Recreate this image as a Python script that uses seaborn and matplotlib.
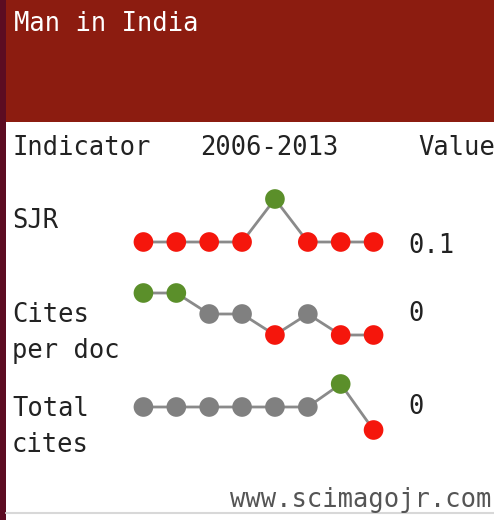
import numpy as np
import pandas as pd
import matplotlib.pyplot as plt
from matplotlib.patches import Rectangle
import seaborn as sns

title = 'Man in India'
period = '2006-2013'
years = [2006, 2007, 2008, 2009, 2010, 2011, 2012, 2013]
indicators = ['SJR', 'Cites\nper doc', 'Total\ncites']
values = ['0.1', '0', '0']
# relative levels per year (only the shape is shown in the sparkline)
sjr = [0, 0, 0, 0, 1, 0, 0, 0]
cites_per_doc = [2, 2, 1, 1, 0, 1, 0, 0]
total_cites = [1, 1, 1, 1, 1, 1, 2, 0]
series = [sjr, cites_per_doc, total_cites]

W, H = 494, 520
RED_HEAD = '#8c1c10'
MAROON = '#5c0c22'
C_HI, C_MID, C_LO = '#5b8f2a', '#808080', '#f5160c'
MONO = 'DejaVu Sans Mono'
FS = 18.4

sns.set_style('white')
fig = plt.figure(figsize=(W / 100, H / 100), dpi=100)
bg = fig.add_axes([0, 0, 1, 1])
bg.set_xlim(0, W)
bg.set_ylim(H, 0)
bg.axis('off')

bg.add_patch(Rectangle((0, 0), W, 122, color=RED_HEAD, lw=0))
bg.add_patch(Rectangle((0, 0), 6, H, color=MAROON, lw=0))
bg.plot([6, W], [513, 513], color='#d8d8d8', lw=1.5)

bg.text(14, 24, title, color='white', fontsize=FS, family=MONO, va='center')
bg.text(12, 148, 'Indicator', color='#222222', fontsize=FS, family=MONO, va='center')
bg.text(200, 148, period, color='#222222', fontsize=FS, family=MONO, va='center')
bg.text(418, 148, 'Value', color='#222222', fontsize=FS, family=MONO, va='center')
bg.text(230, 500, 'www.scimagojr.com', color='#555555', fontsize=FS, family=MONO, va='center')

label_y = [221, 333, 427]
value_y = [246, 314, 407]
for lab, ly, val, vy in zip(indicators, label_y, values, value_y):
    bg.text(12, ly, lab, color='#222222', fontsize=FS, family=MONO, va='center', linespacing=1.5)
    bg.text(408, vy, val, color='#222222', fontsize=FS, family=MONO, va='center')

# pixel rows of lowest / highest level for each sparkline
rows = [(242, 199), (335, 293), (430, 384)]
x0, x1 = 127, 390
for s, (ylo, yhi) in zip(series, rows):
    lo, hi = min(s), max(s)
    pad = 0.3 * (hi - lo)
    per = (ylo - yhi) / (hi - lo)
    top = yhi - pad * per
    bot = ylo + pad * per
    ax = fig.add_axes([x0 / W, 1 - bot / H, (x1 - x0) / W, (bot - top) / H])
    df = pd.DataFrame({'year': years, 'v': s})
    df['c'] = np.where(df['v'] == hi, 'hi', np.where(df['v'] == lo, 'lo', 'mid'))
    sns.lineplot(data=df, x='year', y='v', ax=ax, color='#8a8a8a', lw=2, zorder=1)
    sns.scatterplot(data=df, x='year', y='v', hue='c', ax=ax,
                    palette={'hi': C_HI, 'mid': C_MID, 'lo': C_LO},
                    s=200, edgecolor='none', legend=False, zorder=2)
    ax.set_xlim(years[0] - 0.5, years[-1] + 0.5)
    ax.set_ylim(lo - pad, hi + pad)
    ax.axis('off')

fig.savefig('out.png', dpi=100)
